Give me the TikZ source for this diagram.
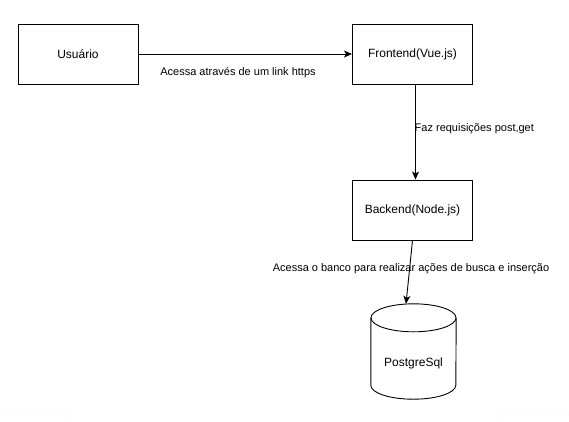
\documentclass[tikz,border=0pt]{standalone}
\usepackage{fontspec}
\setmainfont{Liberation Sans}
\usetikzlibrary{arrows.meta}

\tikzset{
  box/.style={draw, line width=0.9pt, minimum width=120pt, minimum height=60pt,
    inner sep=0pt, font=\fontsize{12}{14}\selectfont},
  lbl/.style={inner sep=0pt, font=\fontsize{11}{13}\selectfont},
  link/.style={line width=0.9pt, -{Stealth[length=8pt,width=7pt,inset=2pt]}}
}

\begin{document}
\begin{tikzpicture}[x=1pt,y=-1pt]
      \useasboundingbox (0,0) rectangle (569,421);

      \node[box] (usuario) at (78,54) {Usuário};
      \node[box] (frontend) at (412.5,54) {Frontend(Vue.js)};
      \node[box] (backend) at (412.5,210) {Backend(Node.js)};
      \node[minimum width=85pt, minimum height=95pt, inner sep=0pt,
        text height=38.5pt, text depth=9pt,
        font=\fontsize{12}{14}\selectfont] (postgres) at (413.5,351.5) {PostgreSql};

      \draw[line width=0.9pt] ([yshift=-14pt]postgres.north west)
        -- ([yshift=14pt]postgres.south west)
        arc[start angle=180, end angle=360, x radius=42.5pt, y radius=14pt]
        -- ([yshift=-14pt]postgres.north east);
      \draw[line width=0.9pt] ([yshift=-14pt]postgres.north)
        ellipse[x radius=42.5pt, y radius=14pt];

      \draw[link] (usuario) -- (frontend);
      \draw[link] ([xshift=3pt]frontend.south) -- ([xshift=3pt]backend.north);
      \draw[link] (backend.south) -- ([xshift=-7.5pt]postgres.north);

      \node[lbl] (acesso) at (238,72.5) {Acessa através de um link https};
      \node[lbl, anchor=west] (requisicoes) at (414.5,129) {Faz requisições post,get};
      \node[lbl] (banco) at (411,269) {Acessa o banco para realizar ações de busca e inserção};

      \draw[gray!12, rounded corners=3pt] (-2,421) |- (68,414.5) -- (68,421);
      \draw[gray!12, rounded corners=3pt] (571,421) |- (501,414.5) -- (501,421);
    \end{tikzpicture}
\end{document}
